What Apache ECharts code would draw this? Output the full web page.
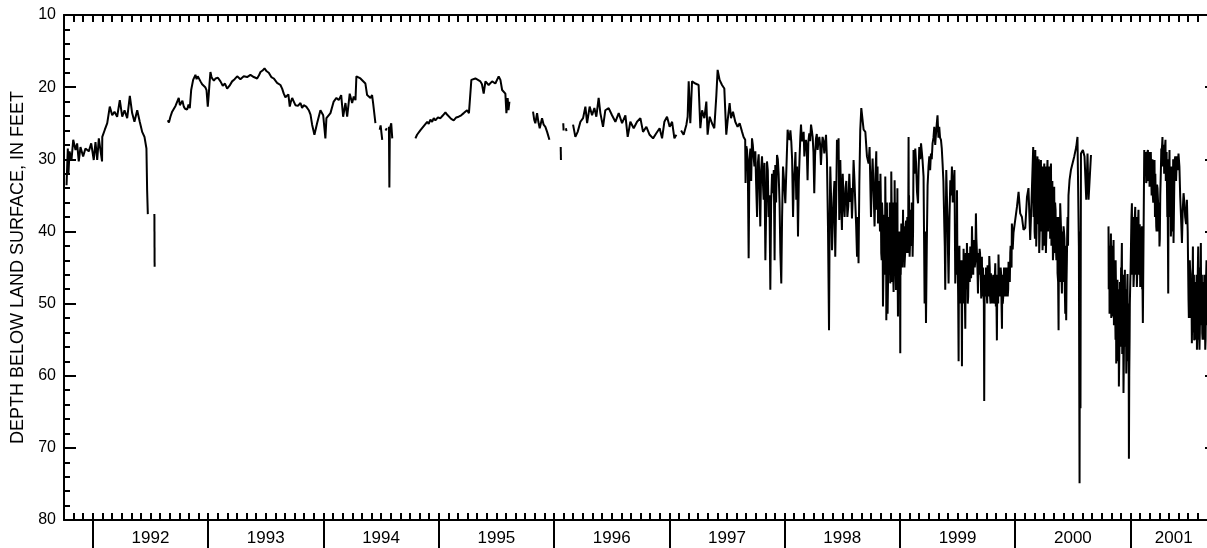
<!DOCTYPE html>
<html><head><meta charset="utf-8">
<script src="https://cdn.jsdelivr.net/npm/echarts@6/dist/echarts.min.js"></script>
<style>html,body{margin:0;padding:0;background:#fff;overflow:hidden}#c{width:1218px;height:548px}</style>
</head><body><div id="c"></div>
<script>
// Water levels, depth below land surface (ft); x = decimal year
const seg1992a = [[1991.772,33.6],[1991.783,28.5],[1991.789,31.9],[1991.798,28.9],[1991.815,30.1],[1991.830,27.3],[1991.850,28.7],[1991.864,27.8],[1991.878,30.3],[1991.893,28.3],[1991.916,29.6],[1991.936,28.5],[1991.965,28.9],[1991.986,27.8],[1992.008,30.1],[1992.023,27.6],[1992.038,30.1],[1992.052,27.1],[1992.080,30.3],[1992.082,26.9],[1992.104,25.9],[1992.125,25.0],[1992.147,22.7],[1992.168,23.9],[1992.188,23.4],[1992.211,24.1],[1992.234,21.8],[1992.255,24.1],[1992.275,23.2],[1992.298,24.3],[1992.321,21.2],[1992.341,23.6],[1992.361,24.8],[1992.385,23.2],[1992.407,24.8],[1992.428,26.2],[1992.448,26.9],[1992.465,28.5],[1992.471,34.3],[1992.477,37.6]];
const seg1992b = [[1992.534,37.6],[1992.536,44.9]];
const seg1993 = [[1992.650,24.6],[1992.673,24.1],[1992.702,23.2],[1992.732,22.0],[1992.745,21.5],[1992.766,22.2],[1992.789,22.7],[1992.818,23.1],[1992.841,22.9],[1992.853,20.4],[1992.870,19.0],[1992.890,18.3],[1992.910,18.5],[1992.934,19.2],[1992.962,19.7],[1992.986,20.4],[1992.997,22.7],[1993.006,20.9],[1993.020,17.9],[1993.035,18.8],[1993.064,18.8],[1993.107,19.2],[1993.165,20.2],[1993.208,19.2],[1993.252,18.5],[1993.309,18.5],[1993.367,18.3],[1993.425,18.8],[1993.454,17.9],[1993.489,17.4],[1993.526,18.0],[1993.569,18.8],[1993.627,19.7],[1993.656,20.9],[1993.685,21.3],[1993.708,22.7],[1993.729,21.5],[1993.757,22.5],[1993.801,22.2],[1993.829,22.5],[1993.873,23.2],[1993.902,25.2],[1993.922,26.6],[1993.945,25.0],[1993.974,23.2],[1993.998,23.9],[1994.017,27.1],[1994.026,24.3],[1994.061,23.6],[1994.089,22.0],[1994.113,21.5],[1994.133,21.8],[1994.154,21.1],[1994.171,24.1],[1994.191,22.2],[1994.206,24.1],[1994.228,20.9],[1994.249,22.2],[1994.263,21.3],[1994.278,21.8],[1994.286,18.5],[1994.321,18.8],[1994.364,19.5],[1994.379,21.1],[1994.408,21.5],[1994.422,21.1],[1994.431,22.2],[1994.451,25.0]];
const seg1993Extra = [[1992.660,24.9],[1992.688,23.4],[1992.717,22.6],[1992.738,21.8],[1992.755,22.5],[1992.777,21.9],[1992.800,23.0],[1992.830,22.4],[1992.880,18.8],[1992.900,18.9],[1992.922,18.7],[1992.948,19.6],[1992.975,20.0],[1993.012,19.5],[1993.028,18.5],[1993.050,19.1],[1993.085,18.7],[1993.127,19.8],[1993.146,19.5],[1993.186,19.8],[1993.230,18.9],[1993.280,18.9],[1993.338,18.6],[1993.396,18.6],[1993.440,18.4],[1993.472,17.7],[1993.508,17.8],[1993.548,18.6],[1993.598,19.4],[1993.642,20.2],[1993.670,21.4],[1993.696,21.0],[1993.718,22.0],[1993.743,22.0],[1993.779,22.6],[1993.815,22.9],[1993.851,22.7],[1993.888,23.8]];
const seg1994a = [[1994.488,25.9],[1994.496,25.3],[1994.510,27.3]];
const seg1994b = [[1994.538,26.0],[1994.550,25.7]];
const seg1994c = [[1994.568,25.5],[1994.572,33.9],[1994.576,25.8],[1994.588,25.0],[1994.597,27.1]];
const seg1995 = [[1994.798,27.1],[1994.812,26.6],[1994.826,26.8],[1994.840,26.0],[1994.856,26.2],[1994.870,25.4],[1994.885,25.5],[1994.900,24.8],[1994.913,25.1],[1994.928,24.5],[1994.943,24.8],[1994.957,24.3],[1994.971,24.6],[1994.993,24.2],[1995.015,24.3],[1995.037,23.9],[1995.058,23.5],[1995.072,23.8],[1995.087,24.0],[1995.108,24.4],[1995.130,24.6],[1995.152,24.2],[1995.173,24.1],[1995.195,23.9],[1995.217,23.6],[1995.232,23.4],[1995.246,23.2],[1995.262,23.6],[1995.275,23.4],[1995.283,19.0],[1995.318,18.8],[1995.340,19.0],[1995.361,19.2],[1995.375,19.6],[1995.390,20.9],[1995.405,19.2],[1995.433,19.7],[1995.463,19.2],[1995.491,19.5],[1995.520,18.5],[1995.535,19.0],[1995.550,20.4],[1995.578,20.9],[1995.587,23.6],[1995.598,21.5],[1995.605,23.2],[1995.613,22.0]];
const seg1996a = [[1995.818,23.4],[1995.828,24.5],[1995.838,25.0],[1995.853,23.6],[1995.864,24.8],[1995.876,25.7],[1995.896,24.3],[1995.910,25.2],[1995.925,25.5],[1995.940,26.2],[1995.950,26.0],[1995.960,27.3]];
const seg1996b = [[1996.058,28.3],[1996.060,30.1]];
const seg1996c = [[1996.080,25.0],[1996.083,26.0]];
const seg1996d = [[1996.103,25.7],[1996.108,26.1]];
const seg1996e = [[1996.165,25.2],[1996.185,26.9],[1996.205,26.2],[1996.229,24.8],[1996.252,24.3],[1996.272,22.7],[1996.287,25.0],[1996.309,22.7],[1996.330,23.9],[1996.350,22.9],[1996.367,24.1],[1996.387,21.5],[1996.402,23.6],[1996.425,25.5],[1996.445,23.2],[1996.474,22.9],[1996.503,23.9],[1996.532,24.8],[1996.561,23.6],[1996.590,25.0],[1996.619,23.9],[1996.639,26.9],[1996.662,24.8],[1996.691,25.7],[1996.720,24.8],[1996.749,24.3],[1996.772,26.2],[1996.801,25.5],[1996.829,26.6],[1996.859,27.1],[1996.887,26.4],[1996.916,25.7],[1996.937,27.1],[1996.957,24.8],[1996.980,24.1],[1997.003,25.5],[1997.024,24.8],[1997.044,27.1],[1997.061,26.6]];
const seg1997to2000 = [[1997.102,26.0],[1997.124,26.6],[1997.148,25.2],[1997.159,24.1],[1997.168,19.2],[1997.182,25.0],[1997.197,19.2],[1997.226,19.5],[1997.254,19.7],[1997.269,25.7],[1997.284,23.2],[1997.304,24.3],[1997.321,22.0],[1997.332,26.6],[1997.350,24.1],[1997.370,25.0],[1997.390,25.7],[1997.408,21.1],[1997.419,17.6],[1997.436,19.0],[1997.457,19.7],[1997.477,20.2],[1997.494,26.6],[1997.506,24.6],[1997.523,22.2],[1997.535,24.3],[1997.552,23.4],[1997.572,24.8],[1997.592,25.5],[1997.610,25.0],[1997.631,26.2],[1997.644,26.9],[1997.658,27.3],[1997.661,33.3],[1997.674,28.7],[1997.688,43.7],[1997.703,28.5],[1997.717,27.1],[1997.731,29.6],[1997.746,28.9],[1997.761,38.0],[1997.775,29.3],[1997.789,39.3],[1997.804,29.6],[1997.818,35.6],[1997.833,44.0],[1997.847,30.3],[1997.861,38.0],[1997.876,48.1],[1997.891,32.0],[1997.899,34.7],[1997.913,44.0],[1997.919,30.8],[1997.934,29.4],[1997.948,32.0],[1997.963,43.0],[1997.971,47.2],[1997.986,31.0],[1998.006,36.1],[1998.026,25.9],[1998.043,27.3],[1998.058,27.6],[1998.073,38.0],[1998.087,31.5],[1998.101,35.6],[1998.116,40.7],[1998.130,29.6],[1998.142,25.2],[1998.159,26.9],[1998.171,29.6],[1998.185,27.3],[1998.199,32.9],[1998.214,26.4],[1998.229,25.2],[1998.243,26.9],[1998.257,34.7],[1998.272,27.1],[1998.286,28.7],[1998.301,26.9],[1998.315,30.8],[1998.329,26.9],[1998.344,29.2],[1998.359,26.6],[1998.376,39.3],[1998.385,53.7],[1998.396,31.0],[1998.411,42.6],[1998.425,35.2],[1998.439,43.5],[1998.454,27.3],[1998.468,27.1],[1998.474,38.4],[1998.483,30.1],[1998.497,39.8],[1998.511,35.6],[1998.535,33.0],[1998.552,36.5],[1998.570,35.9],[1998.584,38.2],[1998.598,30.1],[1998.613,36.1],[1998.628,43.5],[1998.641,44.4],[1998.648,33.3],[1998.656,25.9],[1998.665,22.9],[1998.685,25.9],[1998.700,26.2],[1998.714,29.6],[1998.728,30.6],[1998.737,28.3],[1998.749,38.0],[1998.763,29.9],[1998.780,39.3],[1998.795,28.9],[1998.810,38.9],[1998.824,37.5],[1998.838,43.0],[1998.853,50.4],[1998.864,37.7],[1998.873,32.4],[1998.882,52.3],[1998.893,51.4],[1998.908,40.3],[1998.916,47.2],[1998.925,31.7],[1998.936,45.8],[1998.945,48.4],[1998.954,32.9],[1998.966,48.1],[1998.974,38.4],[1998.983,51.8],[1998.994,42.1],[1999.003,56.9],[1999.012,38.9],[1999.023,41.6],[1999.032,39.3],[1999.046,42.8],[1999.061,40.3],[1999.075,26.9],[1999.084,43.5],[1999.096,39.3],[1999.110,43.5],[1999.118,28.7],[1999.133,28.5],[1999.148,34.5],[1999.157,36.1],[1999.168,28.3],[1999.183,27.8],[1999.196,30.1],[1999.205,32.4],[1999.214,50.0],[1999.226,52.7],[1999.240,33.6],[1999.255,29.6],[1999.269,29.2],[1999.283,27.8],[1999.298,25.5],[1999.313,26.4],[1999.326,23.9],[1999.341,25.5],[1999.356,27.3],[1999.370,30.6],[1999.385,39.3],[1999.393,48.1],[1999.402,31.5],[1999.413,38.4],[1999.422,47.2],[1999.437,32.9],[1999.451,31.0],[1999.465,33.8],[1999.473,31.5],[1999.480,47.2],[1999.495,34.3],[1999.509,58.0],[1999.523,46.0],[1999.538,58.7],[1999.552,42.4],[1999.567,53.5],[1999.581,41.6],[1999.595,45.8],[1999.610,42.1],[1999.625,39.3],[1999.639,41.2],[1999.659,37.5],[1999.677,48.6],[1999.691,42.4],[1999.705,49.3],[1999.717,46.7],[1999.731,63.5],[1999.746,45.0],[1999.760,44.7],[1999.775,43.4],[1999.789,45.8],[1999.798,48.6],[1999.812,45.8],[1999.827,44.4],[1999.832,50.4],[1999.841,55.1],[1999.855,43.2],[1999.870,47.0],[1999.885,53.5],[1999.899,47.5],[1999.913,48.0],[1999.928,47.0],[1999.942,44.2],[1999.957,43.0],[1999.971,38.9],[1999.985,40.2],[2000.000,40.0],[2000.015,36.6],[2000.029,34.5],[2000.043,37.5],[2000.058,38.0],[2000.072,39.8],[2000.087,39.5],[2000.102,35.2],[2000.115,34.0],[2000.130,41.2],[2000.145,34.0],[2000.156,28.3],[2000.174,28.7],[2000.182,42.1],[2000.193,29.6],[2000.208,43.0],[2000.223,30.1],[2000.237,42.6],[2000.252,30.6],[2000.266,43.0],[2000.280,30.1],[2000.297,38.0],[2000.310,30.6],[2000.327,44.0],[2000.338,33.8],[2000.353,42.1],[2000.367,45.8],[2000.376,53.7],[2000.390,36.1],[2000.405,48.6],[2000.419,39.3],[2000.434,51.4],[2000.442,52.3],[2000.454,38.0],[2000.471,32.9],[2000.483,31.5],[2000.512,29.6],[2000.529,28.3],[2000.540,26.9],[2000.552,42.1],[2000.558,74.9],[2000.562,40.0],[2000.566,64.5],[2000.570,29.2],[2000.587,28.7],[2000.601,29.6],[2000.616,35.6],[2000.627,29.2],[2000.636,35.6],[2000.657,29.4]];
// additional readings in the densely fluctuating periods
const seg1997to2000Extra = [[1997.665,30.5],[1997.668,28.2],[1997.681,31.5],[1997.695,30.0],[1997.710,33.0],[1997.724,28.0],[1997.738,31.0],[1997.753,33.5],[1997.768,30.5],[1997.782,34.0],[1997.796,31.5],[1997.811,33.0],[1997.825,30.5],[1997.840,37.0],[1997.854,31.5],[1997.868,35.0],[1997.883,36.0],[1997.906,31.5],[1997.926,36.0],[1997.941,30.0],[1997.956,36.0],[1997.978,38.0],[1997.995,33.0],
[1998.034,27.0],[1998.050,26.0],[1998.065,30.0],[1998.080,33.0],[1998.094,29.0],[1998.108,31.0],[1998.123,33.0],[1998.136,27.0],[1998.150,27.5],[1998.165,26.2],[1998.178,28.0],[1998.192,28.5],[1998.206,27.5],[1998.221,27.5],[1998.236,26.0],[1998.250,29.0],[1998.264,29.5],[1998.279,26.5],[1998.294,27.5],[1998.308,28.0],[1998.322,28.5],[1998.337,27.5],[1998.351,28.0],[1998.367,30.0],
[1998.390,40.0],[1998.404,36.0],[1998.418,39.0],[1998.432,33.0],[1998.447,36.0],[1998.461,30.0],[1998.490,36.0],[1998.504,32.0],[1998.520,38.0],[1998.528,34.0],[1998.544,38.0],[1998.561,32.0],[1998.577,34.0],[1998.591,35.0],[1998.606,33.0],[1998.620,39.0],[1998.635,38.0],
[1998.756,33.0],[1998.771,34.0],[1998.788,32.0],[1998.802,31.5],[1998.817,33.0],[1998.831,32.0],[1998.845,36.0],[1998.859,44.0],[1998.868,46.0],[1998.877,40.0],[1998.887,36.0],[1998.900,44.0],[1998.912,36.0],[1998.920,44.0],[1998.930,38.0],[1998.940,36.0],[1998.950,44.0],[1998.960,36.0],[1998.970,45.0],[1998.978,34.0],[1998.988,46.0],[1998.998,40.0],[1999.007,46.0],[1999.017,44.0],[1999.027,37.0],[1999.039,45.0],[1999.054,38.5],[1999.068,42.0],[1999.079,35.0],[1999.090,41.0],[1999.103,36.0],[1999.114,40.0],
[1999.125,32.0],[1999.140,30.5],[1999.162,31.5],[1999.176,30.0],[1999.190,29.0],[1999.220,40.0],[1999.233,42.0],[1999.248,31.0],[1999.262,31.5],[1999.276,30.0],[1999.291,27.0],[1999.306,28.0],[1999.320,25.0],[1999.334,27.0],[1999.348,27.0],[1999.363,28.5],[1999.377,33.0],[1999.389,42.0],[1999.397,40.0],[1999.407,35.0],[1999.417,43.0],[1999.430,38.0],[1999.444,35.0],[1999.458,36.0],
[1999.488,41.0],[1999.502,45.0],[1999.516,42.0],[1999.530,49.0],[1999.545,46.0],[1999.560,48.0],[1999.574,45.0],[1999.588,50.0],[1999.603,44.0],[1999.617,46.5],[1999.632,44.0],[1999.649,45.0],[1999.668,43.0],[1999.684,44.5],[1999.698,45.5],[1999.711,43.5],[1999.724,48.0],[1999.739,47.5],[1999.753,48.5],[1999.768,47.0],[1999.782,49.0],[1999.805,47.5],[1999.820,49.5],[1999.848,48.0],[1999.862,45.0],[1999.878,46.0],[1999.892,50.0],[1999.906,45.0],[1999.920,46.0],[1999.935,49.0],[1999.950,46.5],[1999.964,44.5],[1999.978,42.5],
[2000.162,33.0],[2000.168,40.0],[2000.178,31.5],[2000.187,36.0],[2000.200,32.0],[2000.215,38.0],[2000.230,34.0],[2000.244,37.5],[2000.259,33.0],[2000.273,39.0],[2000.289,34.0],[2000.303,41.0],[2000.318,35.0],[2000.332,38.0],[2000.346,36.0],[2000.360,39.0],[2000.383,45.0],[2000.398,40.0],[2000.412,45.0],[2000.427,41.0],[2000.448,44.0],[2000.462,35.0]];
const seg1997to2000Dense = [[1998.784,36],[1998.792,32],[1998.799,37],[1998.806,31],[1998.813,37],[1998.820,33],[1998.827,40],[1998.834,35],[1998.842,44],[1998.849,38],[1998.856,47],[1998.862,40],[1998.871,45],[1998.880,38],[1998.885,47],[1998.890,40],[1998.896,48],[1998.904,38],[1998.910,46],[1998.914,38],[1998.923,46],[1998.928,36],[1998.933,47],[1998.938,40],[1998.943,47],[1998.948,38],[1998.952,46],[1998.957,38],[1998.963,46],[1998.968,40],[1998.972,48],[1998.976,40],[1998.981,48],[1998.986,40],[1998.991,48],[1998.996,41],[1999.001,47],[1999.005,40],[1999.010,46],[1999.015,40],[1999.020,45],[1999.025,40],[1999.030,44],[1999.035,40],[1999.042,44],[1999.050,39],[1999.057,43],[1999.064,38],[1999.071,43],[1999.077,38],[1999.087,42],[1999.093,37],[1999.100,42],[1999.107,37],
[1999.492,46],[1999.498,43],[1999.505,49],[1999.512,44],[1999.519,50],[1999.527,44],[1999.534,47],[1999.541,44],[1999.549,50],[1999.556,45],[1999.563,49],[1999.571,43],[1999.578,48],[1999.585,44],[1999.592,49],[1999.599,43],[1999.606,47],[1999.614,43],[1999.621,45],[1999.628,42],[1999.636,46],[1999.644,42],[1999.654,44],[1999.663,41],[1999.672,45],[1999.680,43],[1999.688,46],[1999.695,43],[1999.702,47],[1999.708,44],[1999.714,49],[1999.720,45],[1999.728,50],[1999.735,46],[1999.743,49],[1999.750,46],[1999.757,50],[1999.764,45],[1999.772,49],[1999.779,45],[1999.786,50],[1999.794,46],[1999.801,50],[1999.809,46],[1999.816,50],[1999.824,46],[1999.836,48],[1999.845,46],[1999.852,50],[1999.858,46],[1999.866,49],[1999.874,45],[1999.881,50],[1999.888,46],[1999.896,49],[1999.903,45],[1999.910,49],[1999.917,45],[1999.924,49],[1999.931,45],[1999.939,48],[1999.946,44],[1999.953,47],[1999.960,42],[1999.968,45],[1999.975,40],
[2000.159,38],[2000.165,30],[2000.171,41],[2000.176,33],[2000.181,30],[2000.185,40],[2000.190,31],[2000.196,39],[2000.204,30],[2000.211,41],[2000.219,31],[2000.226,40],[2000.233,31],[2000.240,41],[2000.248,32],[2000.255,42],[2000.262,31],[2000.269,41],[2000.276,32],[2000.284,40],[2000.292,31],[2000.300,37],[2000.306,32],[2000.314,42],[2000.322,33],[2000.330,43],[2000.335,35],[2000.342,43],[2000.350,37],[2000.357,44],[2000.364,38],[2000.372,47],[2000.380,38],[2000.387,47],[2000.394,38],[2000.401,46],[2000.409,40],[2000.416,47],[2000.423,40],[2000.430,48],[2000.438,42],[2000.445,47],[2000.451,40],[2000.458,42]];
const seg2001 = [[2000.809,39.3],[2000.818,51.4],[2000.830,40.3],[2000.841,51.8],[2000.853,41.2],[2000.867,51.4],[2000.876,58.3],[2000.887,46.7],[2000.899,61.5],[2000.911,50.4],[2000.925,41.6],[2000.939,62.4],[2000.951,45.3],[2000.963,59.7],[2000.974,45.9],[2000.986,71.5],[2000.997,47.7],[2001.012,36.1],[2001.026,47.7],[2001.041,36.6],[2001.055,47.7],[2001.069,37.0],[2001.084,47.7],[2001.099,39.3],[2001.107,52.7],[2001.119,28.7],[2001.136,33.3],[2001.151,28.7],[2001.165,33.8],[2001.179,29.2],[2001.194,35.2],[2001.208,30.1],[2001.223,39.3],[2001.238,35.6],[2001.251,42.1],[2001.264,31.0],[2001.277,26.9],[2001.292,32.0],[2001.303,27.3],[2001.316,33.8],[2001.327,48.6],[2001.338,28.7],[2001.350,40.7],[2001.361,32.4],[2001.373,41.6],[2001.388,29.6],[2001.395,33.0],[2001.402,29.6],[2001.416,29.2],[2001.431,35.2],[2001.446,41.6],[2001.460,34.7],[2001.474,38.0],[2001.489,35.6],[2001.503,49.5],[2001.518,45.8],[2001.532,55.5],[2001.541,42.1],[2001.552,55.1],[2001.564,47.7],[2001.576,56.4],[2001.587,42.1],[2001.598,56.4],[2001.610,41.6],[2001.622,54.1],[2001.633,48.1],[2001.648,56.4],[2001.659,44.0],[2001.675,50.5],[2001.690,47.0]];
const seg2001Extra = [[2000.813,45.0],[2000.824,44.0],[2000.835,47.0],[2000.847,45.0],[2000.860,46.0],[2000.871,44.0],[2000.881,52.0],[2000.893,52.0],[2000.905,55.0],[2000.918,45.0],[2000.932,55.0],[2000.945,52.0],[2000.957,50.0],[2000.968,53.0],[2000.980,52.0],[2000.992,55.0],[2001.004,42.0],[2001.019,44.0],[2001.033,40.0],[2001.048,44.0],[2001.062,41.0],[2001.076,43.0],[2001.091,44.0],[2001.103,46.0],
[2001.127,31.0],[2001.143,30.0],[2001.158,31.5],[2001.172,30.5],[2001.186,31.5],[2001.201,33.0],[2001.215,32.0],[2001.230,33.5],[2001.245,37.0],[2001.258,35.0],[2001.270,29.0],[2001.285,30.0],[2001.297,29.5],[2001.310,30.5],[2001.322,36.0],[2001.333,33.0],[2001.344,34.0],[2001.356,36.0],[2001.367,35.0],[2001.380,33.0],[2001.409,31.5],[2001.424,31.0],[2001.438,38.0],[2001.453,37.0],[2001.467,36.0],[2001.482,39.0],[2001.496,40.0],
[2001.510,47.0],[2001.525,50.0],[2001.536,46.0],[2001.547,48.0],[2001.558,50.0],[2001.570,50.0],[2001.581,49.0],[2001.592,48.0],[2001.604,50.0],[2001.616,47.0],[2001.628,52.0],[2001.640,46.0],[2001.654,50.0],[2001.667,48.0]];
const seg2001Dense = [[2000.811,48],[2000.816,42],[2000.821,50],[2000.827,43],[2000.833,52],[2000.838,42],[2000.844,50],[2000.850,43],[2000.856,53],[2000.863,44],[2000.870,55],[2000.874,48],[2000.879,56],[2000.884,48],[2000.890,58],[2000.896,48],[2000.902,58],[2000.908,47],[2000.914,56],[2000.921,46],[2000.928,57],[2000.935,46],[2000.942,58],[2000.948,47],[2000.954,56],[2000.960,48],[2000.966,57],[2000.971,48],[2000.977,58],[2000.983,50],[2000.989,60],[2000.994,50],[2001.001,45],[2001.008,38],[2001.015,46],[2001.022,38],[2001.030,46],[2001.037,38],[2001.044,46],[2001.051,38],[2001.058,46],[2001.065,39],[2001.073,46],[2001.080,39],[2001.087,46],[2001.095,40],[2001.101,48],
[2001.122,32],[2001.131,29],[2001.139,33],[2001.147,29],[2001.154,33],[2001.161,29],[2001.168,34],[2001.176,29],[2001.183,35],[2001.190,30],[2001.197,36],[2001.204,31],[2001.212,38],[2001.219,32],[2001.226,40],[2001.234,34],[2001.241,40],[2001.248,36],[2001.254,41],[2001.261,33],[2001.267,28.5],[2001.274,28],[2001.281,31],[2001.288,28],[2001.294,32],[2001.300,28],[2001.306,33],[2001.313,29],[2001.319,38],[2001.325,43],[2001.330,30],[2001.336,33],[2001.341,38],[2001.347,31],[2001.353,39],[2001.358,31],[2001.364,40],[2001.370,30],[2001.376,38],[2001.384,30],
[2001.506,52],[2001.514,44],[2001.521,52],[2001.528,47],[2001.534,53],[2001.539,45],[2001.544,54],[2001.550,46],[2001.555,54],[2001.561,47],[2001.567,55],[2001.573,46],[2001.579,55],[2001.584,45],[2001.590,55],[2001.595,45],[2001.601,54],[2001.607,45],[2001.613,53],[2001.619,46],[2001.625,55],[2001.631,47],[2001.637,55],[2001.643,48],[2001.651,55],[2001.656,46],[2001.662,53]];

const byDate = (a, b) => a[0] - b[0];
const segments = [seg1992a, seg1992b, seg1993.concat(seg1993Extra).sort(byDate), seg1994a, seg1994b, seg1994c, seg1995,
  seg1996a, seg1996b, seg1996c, seg1996d, seg1996e,
  seg1997to2000.concat(seg1997to2000Extra, seg1997to2000Dense).sort(byDate),
  seg2001.concat(seg2001Extra, seg2001Dense).sort(byDate)];
const yearLabels = ['1992','1993','1994','1995','1996','1997','1998','1999','2000','2001'];
const yTickLabels = ['10','20','30','40','50','60','70','80'];
const xStart = 1991.75, xEnd = 2001.75; // water years 1992-2001

const yearTicks = yearLabels.map(Number);
const bounds = yearTicks.concat([xEnd]);
const labelPos = yearTicks.map((y, i) => (bounds[i] + bounds[i + 1]) / 2);
const monthTicks = [];
for (let k = 0; k <= 120; k++) monthTicks.push(xStart + k / 12);

const FONT = '"Liberation Sans", Arial, Helvetica, sans-serif';
const black = '#000';
const axisLine = { show: true, lineStyle: { color: black, width: 2 } };

const chart = echarts.init(document.getElementById('c'), null, { renderer: 'canvas' });
chart.setOption({
  animation: false,
  backgroundColor: '#fff',
  grid: { left: 64, top: 15, right: 1, bottom: 28, containLabel: false },
  xAxis: [
    { type: 'value', position: 'bottom', min: xStart, max: xEnd,
      axisLine: axisLine, splitLine: { show: false },
      axisTick: { show: true, inside: false, length: 30, customValues: yearTicks, lineStyle: { color: black, width: 2 } },
      axisLabel: { show: true, customValues: labelPos, margin: 10, color: black, fontSize: 17, fontFamily: FONT,
        formatter: v => yearLabels[Math.floor(v + 1e-6) - 1992] || '' } },
    { type: 'value', position: 'bottom', min: xStart, max: xEnd,
      axisLine: { show: false }, splitLine: { show: false }, axisLabel: { show: false },
      axisTick: { show: true, inside: true, length: 7, customValues: monthTicks, lineStyle: { color: black, width: 2 } } },
    { type: 'value', position: 'top', min: xStart, max: xEnd,
      axisLine: axisLine, splitLine: { show: false }, axisLabel: { show: false },
      axisTick: { show: true, inside: true, length: 7, customValues: monthTicks, lineStyle: { color: black, width: 2 } } }
  ],
  yAxis: [
    { type: 'value', position: 'left', inverse: true, min: 10, max: 80, interval: 10,
      axisLine: axisLine, splitLine: { show: false },
      axisTick: { show: true, inside: true, length: 12, lineStyle: { color: black, width: 2 } },
      minorTick: { show: true, splitNumber: 5, length: 6, lineStyle: { color: black, width: 2 } },
      axisLabel: { show: true, margin: 8, color: black, fontSize: 16, fontFamily: FONT,
        formatter: v => yTickLabels[Math.round((v - 10) / 10)] },
      name: 'DEPTH BELOW LAND SURFACE, IN FEET', nameLocation: 'middle', nameRotate: 90, nameGap: 24,
      nameTextStyle: { color: black, fontSize: 18, fontFamily: FONT } },
    { type: 'value', position: 'right', inverse: true, min: 10, max: 80, interval: 10,
      axisLine: axisLine, splitLine: { show: false }, axisLabel: { show: false },
      axisTick: { show: true, inside: true, length: 12, lineStyle: { color: black, width: 2 } },
      minorTick: { show: true, splitNumber: 5, length: 6, lineStyle: { color: black, width: 2 } } }
  ],
  series: segments.map(s => ({
    type: 'line', data: s, xAxisIndex: 0, yAxisIndex: 0,
    showSymbol: false, symbol: 'none', silent: true,
    lineStyle: { color: black, width: 2 }
  }))
});
</script></body></html>
